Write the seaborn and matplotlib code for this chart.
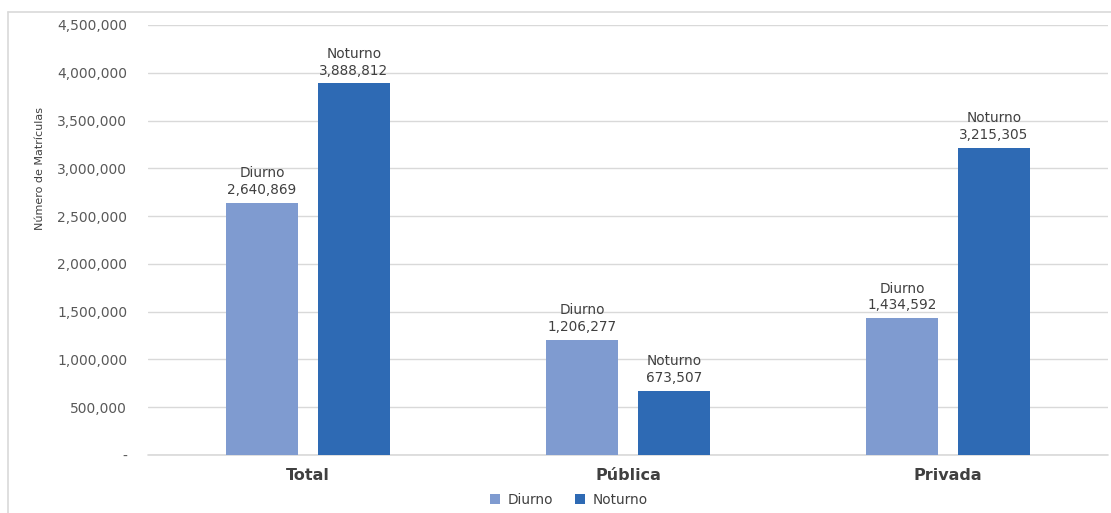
import matplotlib
matplotlib.use("Agg")
import matplotlib.pyplot as plt
from matplotlib.lines import Line2D
from matplotlib.patches import Patch
from matplotlib.ticker import FuncFormatter
import seaborn as sns
import pandas as pd

categories = ["Total", "Pública", "Privada"]
turnos = ["Diurno", "Noturno"]
diurno = [2640869, 1206277, 1434592]
noturno = [3888812, 673507, 3215305]
y_ticks = [0, 500000, 1000000, 1500000, 2000000, 2500000, 3000000, 3500000, 4000000, 4500000]

colors = {"Diurno": "#7F9BD0", "Noturno": "#2E6AB4"}

df = pd.DataFrame({
    "categoria": categories * 2,
    "turno": ["Diurno"] * 3 + ["Noturno"] * 3,
    "matriculas": diurno + noturno,
})

sns.set_theme(style="white")
plt.rcParams["font.family"] = ["DejaVu Sans"]

fig = plt.figure(figsize=(11.11, 5.13), dpi=100)
ax = fig.add_axes([148 / 1111, 58 / 513, (1108 - 148) / 1111, (455 - 25) / 513])

sns.barplot(data=df, x="categoria", y="matriculas", hue="turno",
            order=categories, hue_order=turnos, palette=colors,
            width=0.575, gap=0.217, saturation=1, errorbar=None,
            edgecolor="none", legend=False, ax=ax)

ax.set_xlim(-0.5, 2.5)
ax.set_ylim(0, 4500000)
ax.set_yticks(y_ticks)
ax.yaxis.set_major_formatter(FuncFormatter(lambda v, p: "-" if v == 0 else f"{int(v):,}"))
ax.grid(axis="y", color="#D9D9D9", linewidth=1)
ax.axhline(0, color="#D9D9D9", linewidth=1.2, clip_on=False, zorder=0.5)
ax.set_axisbelow(True)
for s in ax.spines.values():
    s.set_visible(False)
ax.tick_params(axis="y", length=0, pad=15, labelsize=10, labelcolor="#595959")
ax.tick_params(axis="x", length=0, pad=9, labelsize=11.5, labelcolor="#404040")
for lbl in ax.get_xticklabels():
    lbl.set_fontweight("bold")
ax.set_xlabel("")
ax.set_ylabel("")

# axis title sits in the upper part of the left margin
fig.text(40 / 1111, 1 - 169 / 513, "Número de Matrículas", rotation=90,
         ha="center", va="center", fontsize=8, color="#404040")

# value labels above each bar
for container, name in zip(ax.containers, turnos):
    for bar in container:
        h = bar.get_height()
        ax.annotate(f"{name}\n{int(h):,}", (bar.get_x() + bar.get_width() / 2, h),
                    xytext=(0, 4), textcoords="offset points",
                    ha="center", va="bottom", fontsize=9.8, color="#404040",
                    linespacing=1.25)

handles = [Patch(facecolor=colors[t], edgecolor="none", label=t) for t in turnos]
fig.legend(handles=handles, loc="center", bbox_to_anchor=(569 / 1111, 1 - 500 / 513),
           ncol=2, frameon=False, fontsize=9.8, handlelength=0.7, handleheight=0.7,
           columnspacing=1.6, handletextpad=0.6, labelcolor="#404040")

# outer chart frame
fig.add_artist(Line2D([8 / 1111, 8 / 1111], [0, 1 - 12 / 513], transform=fig.transFigure,
                      color="#D9D9D9", linewidth=1.2))
fig.add_artist(Line2D([8 / 1111, 1], [1 - 12 / 513, 1 - 12 / 513], transform=fig.transFigure,
                      color="#D9D9D9", linewidth=1.2))

fig.savefig("out.png", dpi=100, facecolor="white")
